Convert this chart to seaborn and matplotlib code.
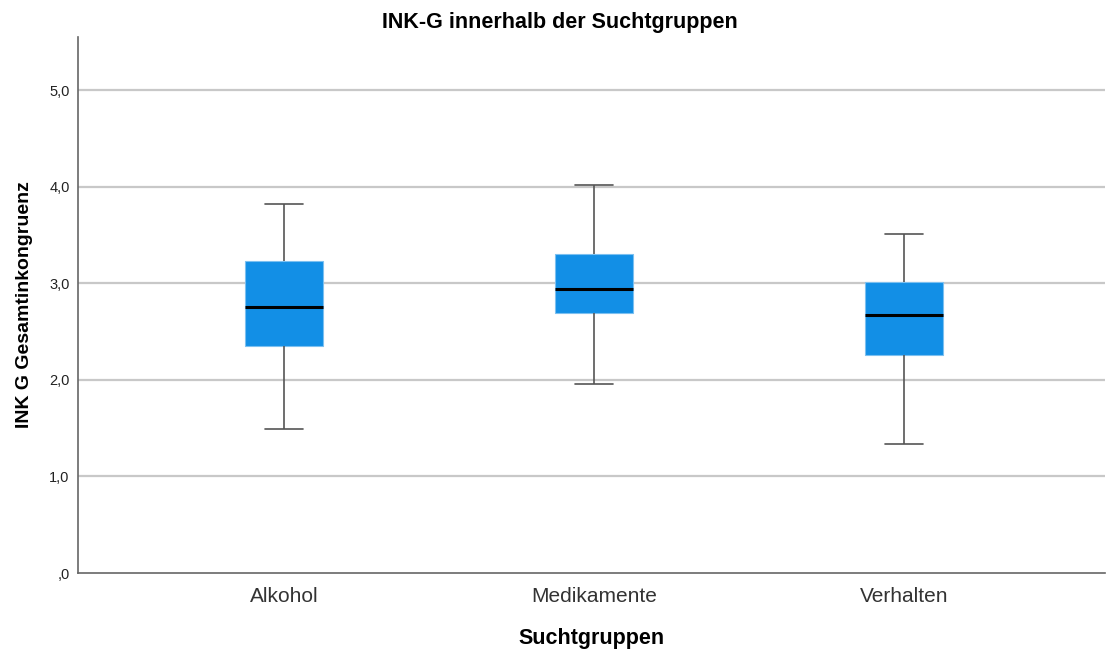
import seaborn as sns
import matplotlib.pyplot as plt
import pandas as pd

# box stats per group: lower whisker, Q1, median, Q3, upper whisker
groups = ["Alkohol", "Medikamente", "Verhalten"]
alkohol = [1.49, 2.35, 2.75, 3.23, 3.82]
medikamente = [1.96, 2.69, 2.94, 3.30, 4.02]
verhalten = [1.34, 2.26, 2.67, 3.01, 3.51]
yticks = [0, 1, 2, 3, 4, 5]
yticklabels = [",0", "1,0", "2,0", "3,0", "4,0", "5,0"]

df = pd.DataFrame({
    "Suchtgruppen": [g for g, vals in zip(groups, [alkohol, medikamente, verhalten]) for _ in vals],
    "INK": alkohol + medikamente + verhalten,
})

sns.set_theme(style="white")
plt.rcParams['font.family'] = ['Liberation Sans', 'DejaVu Sans']

fig = plt.figure(figsize=(11.07, 6.49), dpi=100)
ax = fig.add_axes([0.0705, 0.117, 0.928, 0.826])

sns.boxplot(
    data=df, x="Suchtgruppen", y="INK", order=groups, ax=ax,
    whis=(0, 100), width=0.25, color="#128fe6", saturation=1,
    boxprops=dict(edgecolor="#7cc0f0", linewidth=0.8, facecolor="#128fe6"),
    medianprops=dict(color="black", linewidth=2.2),
    whiskerprops=dict(color="#555555", linewidth=1.2),
    capprops=dict(color="#555555", linewidth=1.2),
    showfliers=False, zorder=3,
)

ax.set_ylim(0, 5.55)
ax.set_xlim(-0.665, 2.65)
ax.set_yticks(yticks)
ax.set_yticklabels(yticklabels, fontsize=10.5, color="#222222")
ax.tick_params(axis="x", labelsize=15, labelcolor="#333333", length=0, pad=10)
ax.tick_params(axis="y", length=0, pad=6)

for y in yticks[1:]:
    ax.axhline(y, color="#c8c8c8", linewidth=1.6, zorder=1)

sns.despine(ax=ax, top=True, right=True)
ax.spines["left"].set_color("#666666")
ax.spines["bottom"].set_color("#666666")
ax.spines["left"].set_linewidth(1.2)
ax.spines["bottom"].set_linewidth(1.2)

fig.text(0.506, 0.966, "INK-G innerhalb der Suchtgruppen", fontsize=15.5,
         fontweight="bold", ha="center", va="center", color="black")
ax.set_xlabel("Suchtgruppen", fontsize=15.5, fontweight="bold", labelpad=16, color="black")
ax.set_ylabel("INK G Gesamtinkongruenz", fontsize=14, fontweight="bold", labelpad=12, color="black")

plt.savefig("out.png", dpi=100)
